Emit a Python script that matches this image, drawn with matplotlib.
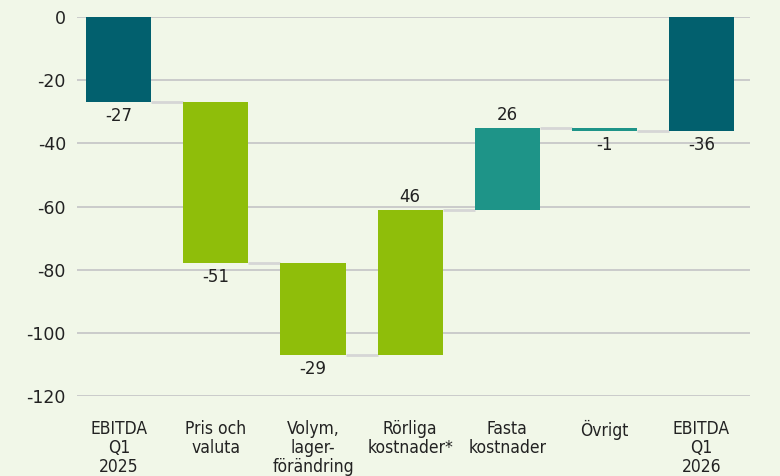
import matplotlib.pyplot as plt
import numpy as np

plt.rcParams['axes.unicode_minus'] = False

# Data
categories = ['EBITDA\nQ1\n2025', 'Pris och\nvaluta', 'Volym,\nlager-\nförändring',
              'Rörliga\nkostnader*', 'Fasta\nkostnader', 'Övrigt', 'EBITDA\nQ1\n2026']
changes = [-27, -51, -29, 46, 26, -1, -36]
is_total = [True, False, False, False, False, False, True]
bar_colors = ['#02606E', '#8FBE0A', '#8FBE0A', '#8FBE0A', '#1E9488', '#1E9488', '#02606E']
bg = '#F1F7E8'

# compute bar bottoms / tops
bottoms, tops = [], []
level = 0
for val, tot in zip(changes, is_total):
    if tot:
        bottoms.append(0)
        tops.append(val)
    else:
        bottoms.append(level)
        tops.append(level + val)
    level = tops[-1]

fig = plt.figure(figsize=(7.8, 4.76), dpi=100, facecolor=bg)
ax = fig.add_axes([77 / 780, 1 - 396 / 476, (750 - 77) / 780, (396 - 17) / 476])
ax.set_facecolor(bg)

x = np.arange(len(categories))
w = 0.67
for i, (b, t, val) in enumerate(zip(bottoms, tops, changes)):
    ax.bar(x[i], t - b, bottom=b, width=w, color=bar_colors[i], zorder=3)
    lo, hi = min(b, t), max(b, t)
    if val < 0:
        ax.text(x[i], lo - 1.6, f'{val}', ha='center', va='top', fontsize=12, color='#222222')
    else:
        ax.text(x[i], hi + 1.2, f'{val}', ha='center', va='bottom', fontsize=12, color='#222222')

# connectors
for i in range(len(categories) - 1):
    lvl = tops[i]
    ax.plot([x[i] + w / 2, x[i + 1] - w / 2], [lvl, lvl], color='#D6D6D6', lw=2, zorder=2,
            solid_capstyle='butt')

ax.set_ylim(-120, 0)
ax.set_xlim(-0.43, 6.5)
ax.set_yticks(np.arange(-120, 1, 20))
ax.grid(axis='y', color='#C8C8C8', lw=1.3, zorder=0)
for s in ax.spines.values():
    s.set_visible(False)
ax.tick_params(axis='y', length=0, labelsize=12.5, labelcolor='#222222', pad=8)
ax.tick_params(axis='x', length=0, pad=17)
ax.set_xticks(x)
ax.set_xticklabels(categories, fontsize=12.5, fontstretch='condensed', color='#222222',
                   linespacing=1.1)

fig.savefig('out.png', dpi=100, facecolor=bg)
